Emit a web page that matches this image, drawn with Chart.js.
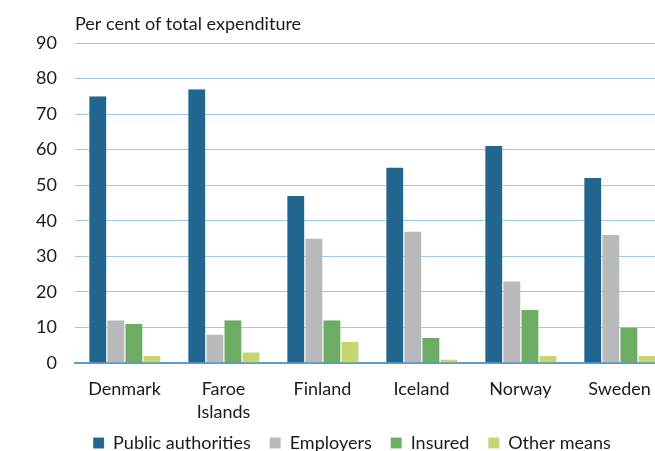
<!DOCTYPE html>
<html>
<head>
<meta charset="utf-8">
<script src="https://cdn.jsdelivr.net/npm/chart.js@4/dist/chart.umd.min.js"></script>
<style>
  html, body { margin: 0; padding: 0; background: #fff; overflow: hidden; }
  .wrap { width: 704px; height: 451px; }
</style>
</head>
<body>
<div class="wrap"><canvas id="myChart" width="704" height="451"></canvas></div>
<script>
const countries = ['Denmark', ['Faroe', 'Islands'], 'Finland', 'Iceland', 'Norway', 'Sweden']
const publicAuthorities = [75, 77, 47, 55, 61, 52]
const employers = [12, 8, 35, 37, 23, 36]
const insured = [11, 12, 12, 7, 15, 10]
const otherMeans = [2, 3, 6, 1, 2, 2]
const yTicks = [0, 10, 20, 30, 40, 50, 60, 70, 80, 90]

const font = 'Lato'

// heading above the value axis, lined up with the plot's left edge
const axisHeading = {
    id: 'axisHeading',
    afterDraw(chart) {
        const c = chart.ctx
        c.save()
        c.font = `18px ${font}`
        c.fillStyle = '#1a1a1a'
        c.textBaseline = 'alphabetic'
        c.fillText('Per cent of total expenditure', chart.chartArea.left, 30)
        c.restore()
    }
}

// legend padding spaces the items apart but also pads top and bottom,
// so keep the box short and nudge the row up a little when drawing
const legendRow = {
    id: 'legendRow',
    beforeInit(chart) {
        const legend = chart.legend
        const fit = legend.fit
        const draw = legend.draw
        legend.fit = function () {
            fit.call(this)
            this.height = 30
        }
        legend.draw = function () {
            this.top -= 6
            draw.call(this)
            this.top += 6
        }
    }
}

const bar = (label, data, color) => ({
    label: label,
    data: data,
    backgroundColor: color,
    borderColor: 'rgba(255,255,255,0.5)',
    borderWidth: { left: 1 },
    categoryPercentage: 0.73,
    barPercentage: 1
})

new Chart(document.getElementById('myChart'), {
    type: 'bar',
    data: {
        labels: countries,
        datasets: [
            bar('Public authorities', publicAuthorities, '#22668f'),
            bar('Employers', employers, '#b8b9bb'),
            bar('Insured', insured, '#6dad63'),
            bar('Other means', otherMeans, '#c5d670')
        ]
    },
    options: {
        responsive: false,
        animation: false,
        layout: { padding: { top: 43, left: 35, right: 35, bottom: 0 } },
        plugins: {
            tooltip: { enabled: false },
            legend: {
                position: 'bottom',
                labels: {
                    font: { family: font, size: 18 },
                    color: '#1a1a1a',
                    boxWidth: 11,
                    boxHeight: 11,
                    padding: 19
                }
            }
        },
        scales: {
            x: {
                afterFit: s => { s.height = 58 },
                grid: { display: false },
                border: { color: '#5b9bc8', width: 2 },
                ticks: {
                    font: { family: font, size: 18, lineHeight: 1.25 },
                    color: '#1a1a1a',
                    padding: 7,
                    maxRotation: 0
                }
            },
            y: {
                min: 0,
                max: 90,
                afterBuildTicks: s => { s.ticks = yTicks.map(v => ({ value: v })) },
                afterFit: s => { s.width = 40 },
                grid: { color: '#9ccbe6', drawTicks: false },
                border: { display: false },
                ticks: {
                    font: { family: font, size: 18 },
                    color: '#1a1a1a',
                    padding: 18
                }
            }
        }
    },
    plugins: [axisHeading, legendRow]
})
</script>
</body>
</html>
